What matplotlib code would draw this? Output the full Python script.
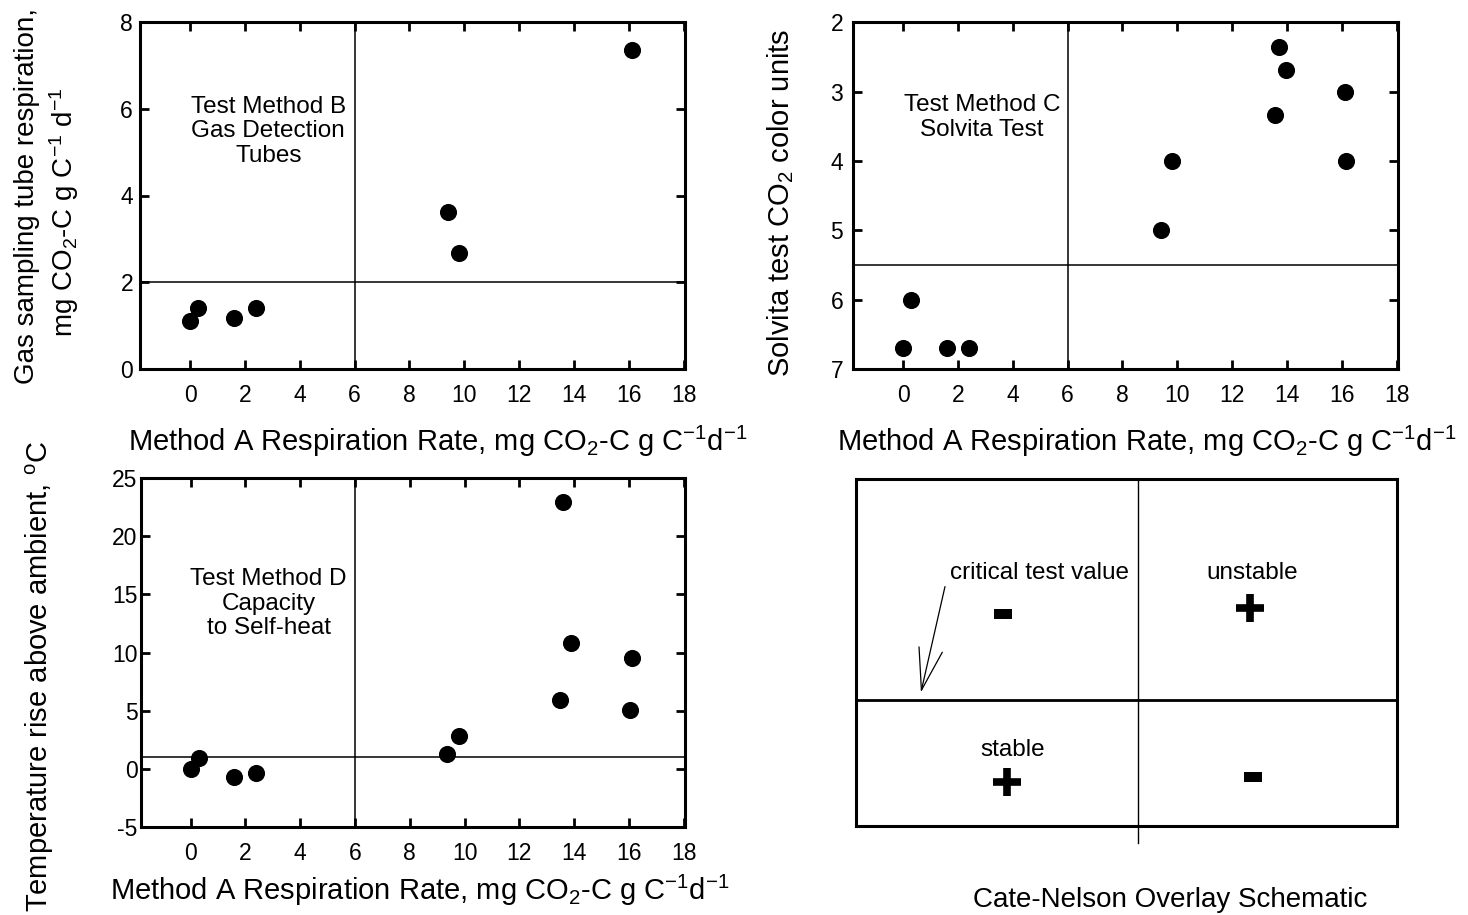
import matplotlib
matplotlib.use("Agg")
import matplotlib.pyplot as plt

plt.rcParams['font.family'] = ['Liberation Sans', 'DejaVu Sans']
plt.rcParams['mathtext.fontset'] = 'custom'
plt.rcParams['mathtext.rm'] = 'Liberation Sans'
plt.rcParams['mathtext.it'] = 'Liberation Sans'
plt.rcParams['mathtext.bf'] = 'Liberation Sans:bold'
plt.rcParams['axes.unicode_minus'] = False

# Method A respiration rate vs each test method
x_b = [0.0, 0.3, 1.6, 2.4, 9.4, 9.8, 16.1]
y_b = [1.1, 1.4, 1.17, 1.4, 3.63, 2.67, 7.35]

x_c = [0.0, 0.3, 1.6, 2.4, 9.4, 9.8, 13.55, 13.7, 13.95, 16.1, 16.15]
y_c = [6.7, 6.0, 6.7, 6.7, 5.0, 4.0, 3.33, 2.35, 2.68, 3.0, 4.0]

x_d = [0.0, 0.3, 1.6, 2.4, 9.35, 9.8, 13.5, 13.6, 13.9, 16.05, 16.1]
y_d = [0.0, 0.9, -0.7, -0.35, 1.25, 2.85, 5.95, 23.0, 10.8, 5.05, 9.55]

# Cate-Nelson critical values (x, y)
crit_b = (6, 2)
crit_c = (6, 5.5)
crit_d = (6, 1)

x_ticks = [0, 2, 4, 6, 8, 10, 12, 14, 16, 18]
xlabel = r'Method A Respiration Rate, mg CO$_2$-C g C$^{-1}$d$^{-1}$'

W, H = 1468, 915
fig = plt.figure(figsize=(W / 100, H / 100), dpi=100)


def px(x, y):
    return x / W, 1 - y / H


def setup(ax, ypad):
    for s in ax.spines.values():
        s.set_linewidth(2.2)
    ax.tick_params(direction='in', top=True, right=True, length=6.5, width=2,
                   labelsize=16.5)
    ax.tick_params(axis='x', pad=11)
    ax.tick_params(axis='y', pad=ypad)
    ax.set_xlim(-1.83, 18.05)
    ax.set_xticks(x_ticks)


def panel(rect, xs, ys, crit, ylim, yticks, ypad, label, lx, ly):
    ax = fig.add_axes(rect)
    setup(ax, ypad)
    ax.set_ylim(*ylim)
    ax.set_yticks(yticks)
    ax.axvline(crit[0], color='black', lw=1.1)
    ax.axhline(crit[1], color='black', lw=1.1)
    ax.plot(xs, ys, 'o', color='black', ms=11.3, zorder=3)
    ax.text(lx, ly, label, ha='center', va='center', fontsize=17.5,
            linespacing=1.15)
    return ax


# Method B
panel([140 / W, 1 - 369 / H, 545 / W, 347 / H], x_b, y_b, crit_b,
      (0, 8), [0, 2, 4, 6, 8], 5,
      'Test Method B\nGas Detection\nTubes', 2.85, 5.48)
fig.text(*px(27, 196), 'Gas sampling tube respiration,', rotation=90,
         ha='center', va='center', fontsize=20)
fig.text(*px(64, 212), r'mg CO$_2$-C g C$^{-1}$ d$^{-1}$', rotation=90,
         ha='center', va='center', fontsize=20)
fig.text(*px(438, 441), xlabel, ha='center', va='center', fontsize=21)

# Method C (inverted colour scale)
panel([853 / W, 1 - 369 / H, 545 / W, 346.5 / H], x_c, y_c, crit_c,
      (7, 2), [2, 3, 4, 5, 6, 7], 7,
      'Test Method C\nSolvita Test', 2.88, 3.37)
fig.text(*px(781, 203), r'Solvita test CO$_2$ color units', rotation=90,
         ha='center', va='center', fontsize=21)
fig.text(*px(1147, 441), xlabel, ha='center', va='center', fontsize=21)

# Method D
panel([140.5 / W, 1 - 826.7 / H, 544.5 / W, 348.4 / H], x_d, y_d, crit_d,
      (-5, 25), [-5, 0, 5, 10, 15, 20, 25], 2,
      'Test Method D\nCapacity\nto Self-heat', 2.85, 14.2)
fig.text(*px(40, 676), r'Temperature rise above ambient, $^{\rm o}$C',
         rotation=90, ha='center', va='center', fontsize=21)
fig.text(*px(420, 890), xlabel, ha='center', va='center', fontsize=21)

# Cate-Nelson overlay schematic
quad_text = ['critical test value', 'unstable', 'stable']
quad_text_pos = [(0.340, 0.729), (0.732, 0.728), (0.290, 0.219)]
plus_pos = [(0.728, 0.627), (0.279, 0.128)]
minus_pos = [(0.272, 0.611), (0.733, 0.142)]

ax = fig.add_axes([856 / W, 1 - 826 / H, 541 / W, 347 / H])
for s in ax.spines.values():
    s.set_linewidth(2.2)
ax.set_xticks([])
ax.set_yticks([])
ax.set_xlim(0, 1)
ax.set_ylim(0, 1)
ax.plot([0.5207, 0.5207], [-0.05, 1], color='black', lw=1.0, clip_on=False)
ax.axhline(0.363, color='black', lw=2.0)
for t, (tx, ty) in zip(quad_text, quad_text_pos):
    ax.text(tx, ty, t, ha='center', va='center', fontsize=17.5)
for mx, my in plus_pos:
    ax.plot(mx, my, marker='+', ms=19.5, mew=5.5, color='black')
for mx, my in minus_pos:
    ax.plot(mx, my, marker='_', ms=13, mew=7.2, color='black')
ax.annotate('', xy=(0.120, 0.385), xytext=(0.1645, 0.690),
            arrowprops=dict(arrowstyle='->,head_length=3.0,head_width=0.86',
                            lw=0.9, color='black', shrinkA=0, shrinkB=0,
                            mutation_scale=10))
fig.text(*px(1170, 900), 'Cate-Nelson Overlay Schematic', ha='center',
         va='center', fontsize=20)

fig.savefig('out.png', dpi=100)
